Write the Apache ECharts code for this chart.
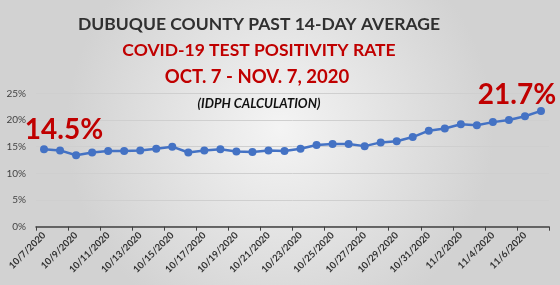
<!DOCTYPE html>
<html><head><meta charset="utf-8">
<script src="https://cdn.jsdelivr.net/npm/echarts@6/dist/echarts.min.js"></script>
<style>html,body{margin:0;padding:0;}#c{width:560px;height:285px;}</style>
</head><body><div id="c"></div>
<script>
const dates = ['10/7/2020','10/8/2020','10/9/2020','10/10/2020','10/11/2020','10/12/2020','10/13/2020','10/14/2020','10/15/2020','10/16/2020','10/17/2020','10/18/2020','10/19/2020','10/20/2020','10/21/2020','10/22/2020','10/23/2020','10/24/2020','10/25/2020','10/26/2020','10/27/2020','10/28/2020','10/29/2020','10/30/2020','10/31/2020','11/1/2020','11/2/2020','11/3/2020','11/4/2020','11/5/2020','11/6/2020','11/7/2020'];
const rates = [14.5,14.3,13.4,13.9,14.2,14.2,14.3,14.6,15.0,13.9,14.3,14.5,14.1,14.0,14.3,14.2,14.6,15.3,15.5,15.5,15.1,15.8,16.0,16.8,18.0,18.4,19.2,19.0,19.6,20.0,20.7,21.7];
const yTicks = [0,5,10,15,20,25];
const titleLines = ['DUBUQUE COUNTY PAST 14-DAY AVERAGE','COVID-19 TEST POSITIVITY RATE','OCT. 7 - NOV. 7, 2020','(IDPH CALCULATION)'];

const font = 'Lato, "Open Sans", sans-serif';
const red = '#c00000';
const calloutLabel = (off) => ({show:true, formatter: p => p.value.toFixed(1)+'%', position:'top', offset:off,
  color:red, fontSize:28, fontWeight:'bold', fontFamily:font});
const seriesData = rates.map((v,i)=>{
  if(i===0) return {value:v, label:calloutLabel([20,4])};
  if(i===rates.length-1) return {value:v, label:calloutLabel([-24,7])};
  return v;
});

const chart = echarts.init(document.getElementById('c'));
chart.setOption({
  backgroundColor: {type:'radial', x:0.5, y:0.45, r:0.75, colorStops:[{offset:0,color:'#f4f4f4'},{offset:1,color:'#d2d2d2'}]},
  animation:false,
  title: [
    {text:titleLines[0], left:254, textAlign:'center', top:10, textStyle:{color:'#303030', fontSize:17.5, fontWeight:'bold', fontFamily:font}},
    {text:titleLines[1], left:254, textAlign:'center', top:36, textStyle:{color:red, fontSize:17.5, fontWeight:'bold', fontFamily:font}},
    {text:titleLines[2], left:252, textAlign:'center', top:63, textStyle:{color:red, fontSize:18.5, fontWeight:'bold', fontFamily:font}},
    {text:titleLines[3], left:254, textAlign:'center', top:92, textStyle:{color:'#111', fontSize:13, fontWeight:'bold', fontStyle:'italic', fontFamily:font}}
  ],
  grid:{left:36, right:11, top:93.3, bottom:58.3, containLabel:false},
  xAxis:{type:'category', data:dates, boundaryGap:true,
    axisLine:{lineStyle:{color:'#404040', width:1.5}},
    axisTick:{show:true, interval:1, length:4, lineStyle:{color:'#404040'}},
    axisLabel:{interval:1, rotate:45, color:'#333', fontSize:9.5, fontWeight:'bold', fontFamily:font, margin:7}},
  yAxis:{type:'value', min:0, max:25, interval:5,
    axisLabel:{formatter: v => v+'%', color:'#444', fontSize:10, fontFamily:font, margin:10},
    splitLine:{lineStyle:{color:'#cfcfcf', width:1}},
    axisLine:{show:false}, axisTick:{show:false}},
  series:[{type:'line', data:seriesData, symbol:'circle', symbolSize:8,
    itemStyle:{color:'#4472c4'}, lineStyle:{color:'#4472c4', width:2.5}}]
});
</script></body></html>
